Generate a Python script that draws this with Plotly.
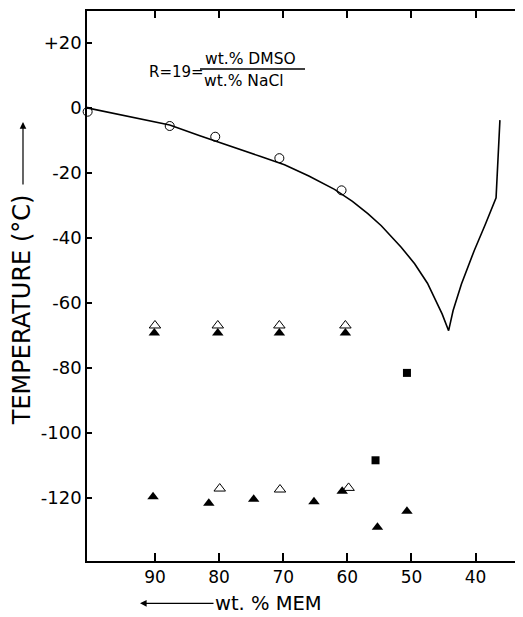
import plotly.graph_objects as go

# ---------------- data
# liquidus curve (wt.% MEM, temperature in C)
curve_mem = [100.6, 97.0, 94.3, 91.0, 87.7, 83.0, 77.7, 73.5, 69.8, 66.0, 62.0, 59.2,
             56.8, 54.7, 51.6, 49.5, 47.5, 46.4, 45.2, 44.2, 43.5, 42.2, 40.2, 38.5,
             36.8, 36.2]
curve_temp = [0.0, -1.5, -2.6, -4.0, -5.3, -8.6, -12.3, -15.0, -17.5, -21.0, -25.1, -28.8,
              -32.6, -36.3, -42.9, -48.0, -54.0, -58.4, -63.5, -68.6, -62.4, -54.2, -43.9, -36.0,
              -27.7, -3.8]

# open circles
circle_mem = [100.5, 87.7, 80.6, 70.6, 60.9]
circle_temp = [-1.2, -5.6, -8.9, -15.5, -25.4]

# open triangles
open_tri_mem = [90.0, 80.2, 70.6, 60.3, 79.9, 70.5, 59.8]
open_tri_temp = [-67.0, -67.0, -67.0, -67.0, -117.2, -117.5, -117.0]

# filled triangles
full_tri_mem = [90.1, 80.2, 70.6, 60.3, 90.3, 81.6, 74.6, 65.2, 60.8, 55.3, 50.7]
full_tri_temp = [-69.3, -69.3, -69.3, -69.3, -119.7, -121.7, -120.5, -121.3, -118.0, -129.1, -124.2]

# filled squares
square_mem = [50.7, 55.6]
square_temp = [-81.6, -108.5]

x_ticks = [90, 80, 70, 60, 50, 40]
x_ticktext = ['90', '80', '70', '60', '50', '40']
y_ticks = [20, 0, -20, -40, -60, -80, -100, -120]
y_ticktext = ['+20', '0', '-20', '-40', '-60', '-80', '-100', '-120']

FONT = 'DejaVu Sans'

fig = go.Figure()
fig.add_trace(go.Scatter(x=curve_mem, y=curve_temp, mode='lines',
                         line=dict(color='black', width=1.6), cliponaxis=False))
fig.add_trace(go.Scatter(x=circle_mem, y=circle_temp, mode='markers', cliponaxis=False,
                         marker=dict(symbol='circle-open', size=9, color='black', line=dict(width=1))))
fig.add_trace(go.Scatter(x=open_tri_mem, y=open_tri_temp, mode='markers',
                         marker=dict(symbol='triangle-up-open', size=10, color='black', line=dict(width=1))))
fig.add_trace(go.Scatter(x=full_tri_mem, y=full_tri_temp, mode='markers',
                         marker=dict(symbol='triangle-up', size=10, color='black')))
fig.add_trace(go.Scatter(x=square_mem, y=square_temp, mode='markers',
                         marker=dict(symbol='square', size=8, color='black')))
# dummy trace so the mirrored top / right axes get drawn
fig.add_trace(go.Scatter(x=curve_mem, y=curve_temp, xaxis='x2', yaxis='y2', mode='markers',
                         marker=dict(opacity=0), hoverinfo='skip'))

axis_common = dict(showgrid=False, zeroline=False, linecolor='black', linewidth=1.5,
                   ticks='inside', tickcolor='black', tickwidth=1.5)

# page body adds ~8px offset, so the figure is a bit smaller than the window
fig.update_layout(
    width=515, height=609,
    margin=dict(l=79, r=0, t=3, b=56),
    paper_bgcolor='white', plot_bgcolor='white',
    showlegend=False,
    font=dict(family=FONT, color='black'),
    xaxis=dict(range=[100.6, 32.6], tickvals=x_ticks, ticktext=x_ticktext, ticklen=8,
               showline=True, tickfont=dict(size=17), **axis_common),
    xaxis2=dict(overlaying='x', side='top', matches='x', range=[100.6, 32.6], tickvals=x_ticks,
                ticklen=7, showline=True, showticklabels=False, **axis_common),
    yaxis=dict(range=[-139.5, 29.8], tickvals=y_ticks, ticktext=y_ticktext, ticklen=5,
               showline=True, tickfont=dict(size=18), **axis_common),
    yaxis2=dict(overlaying='y', side='right', matches='y', range=[-139.5, 29.8], tickvals=y_ticks,
                ticklen=5, showline=False, showticklabels=False, **axis_common),
)

# axis titles with their arrows (paper coords relative to the plot area)
fig.add_annotation(xref='paper', yref='paper', x=-0.149, y=0.456, text='TEMPERATURE (°C)',
                   textangle=-90, showarrow=False, font=dict(size=24), xanchor='center', yanchor='middle')
fig.add_annotation(xref='paper', yref='paper', x=-0.1468, y=0.798, text='', showarrow=True,
                   ax=0, ay=64, arrowhead=2, arrowsize=1.1, arrowwidth=1.2, arrowcolor='black')
fig.add_annotation(xref='paper', yref='paper', x=0.417, y=-0.077, text='wt. % MEM',
                   showarrow=False, font=dict(size=19.5), xanchor='center', yanchor='middle')
fig.add_annotation(xref='paper', yref='paper', x=0.1216, y=-0.077, text='', showarrow=True,
                   ax=75, ay=0, arrowhead=2, arrowsize=1.1, arrowwidth=1.2, arrowcolor='black')

# R = wt.% DMSO / wt.% NaCl
fig.add_annotation(xref='paper', yref='paper', x=0.2052, y=0.8896, text='R=19=',
                   showarrow=False, font=dict(size=15), xanchor='center', yanchor='middle')
fig.add_annotation(xref='paper', yref='paper', x=0.3739, y=0.9127, text='wt.% DMSO',
                   showarrow=False, font=dict(size=15.5), xanchor='center', yanchor='middle')
fig.add_annotation(xref='paper', yref='paper', x=0.3612, y=0.8733, text='wt.% NaCl',
                   showarrow=False, font=dict(size=15.5), xanchor='center', yanchor='middle')
fig.add_shape(type='line', xref='paper', yref='paper', x0=0.2592, x1=0.5, y0=0.8945, y1=0.8945,
              line=dict(color='black', width=1.5))

fig.write_html("out.html")
